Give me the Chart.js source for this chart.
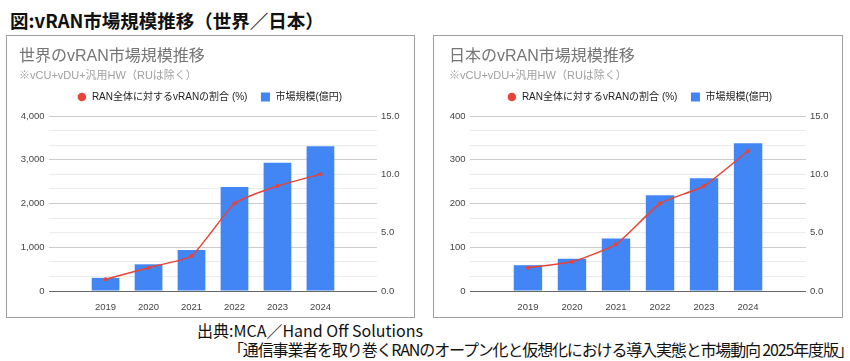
<!DOCTYPE html>
<html lang="ja">
<head>
<meta charset="utf-8">
<script src="https://cdn.jsdelivr.net/npm/chart.js@4.4.1/dist/chart.umd.min.js"></script>
<style>
  body { margin: 0; width: 850px; height: 361px; background: #fff; position: relative; overflow: hidden; }
  .heading { position: absolute; left: 10px; top: 7px; line-height: 20px; font: bold 18.5px "Noto Sans CJK JP", sans-serif; color: #111; white-space: nowrap; }
  .box { position: absolute; top: 35px; height: 281px; border: 1px solid #9e9e9e; }
  #boxWorld { left: 6px; width: 407px; }
  #boxJapan { left: 433px; width: 408px; }
  canvas { display: block; }
  .source { position: absolute; font: 16px "Noto Sans CJK JP", sans-serif; line-height: 19px; color: #111; white-space: nowrap; }
  #src1 { left: 197px; top: 321px; }
  #src2 { left: 228px; top: 340px; letter-spacing: -1.15px; }
</style>
</head>
<body>
<div class="heading">図:vRAN市場規模推移（世界／日本）</div>
<div class="box" id="boxWorld"><canvas id="worldChart" width="407" height="281"></canvas></div>
<div class="box" id="boxJapan"><canvas id="japanChart" width="408" height="281"></canvas></div>
<div class="source" id="src1">出典:MCA／Hand Off Solutions</div>
<div class="source" id="src2">「通信事業者を取り巻くRANのオープン化と仮想化における導入実態と市場動向 2025年度版」</div>

<script>
const years = ['2019', '2020', '2021', '2022', '2023', '2024'];

// 世界 (億円 / %)
const worldMarket = [300, 610, 940, 2380, 2930, 3310];
const worldShare = [1.0, 2.0, 3.0, 7.5, 9.0, 10.0];
const worldMarketTicks = [0, 1000, 2000, 3000, 4000];

// 日本 (億円 / %)
const japanMarket = [59, 74, 120, 219, 258, 338];
const japanShare = [2.0, 2.5, 4.0, 7.5, 9.0, 12.0];
const japanMarketTicks = [0, 100, 200, 300, 400];

const shareTicks = [0, 5, 10, 15];

const shareLabel = 'RAN全体に対するvRANの割合 (%)';
const marketLabel = '市場規模(億円)';

const BLUE = '#4285f4';
const RED = '#ea4335';
const FONT = 'Arial, "Liberation Sans", "Noto Sans CJK JP", sans-serif';

// push the plot a little further down from the legend
const legendGap = {
    id: 'legendGap',
    beforeInit(chart) {
        const fit = chart.legend.fit;
        chart.legend.fit = function () {
            fit.bind(chart.legend)();
            this.height += 4;
        };
    }
};

function withMinor(ticks) {
    // two minor gridlines between each labelled one
    let out = [];
    ticks.forEach((v, i) => {
        out.push(v);
        if (i < ticks.length - 1) {
            let d = (ticks[i + 1] - v) / 3;
            out.push(v + d, v + 2 * d);
        }
    });
    return out;
}

function makeChart(canvasId, title, market, share, marketTicks, lay) {
    const ctx = document.getElementById(canvasId).getContext('2d');
    const gridValues = withMinor(marketTicks);

    return new Chart(ctx, {
        type: 'bar',
        data: {
            labels: years,
            datasets: [{
                type: 'line',
                label: shareLabel,
                data: share,
                yAxisID: 'y2',
                borderColor: RED,
                backgroundColor: RED,
                borderWidth: 1.5,
                pointRadius: 2,
                pointBorderWidth: 0,
                pointStyle: 'circle',
                tension: 0.15,
                order: 0
            }, {
                label: marketLabel,
                data: market,
                yAxisID: 'y',
                backgroundColor: BLUE,
                borderColor: BLUE,
                borderWidth: 0,
                pointStyle: 'rect',
                categoryPercentage: 1,
                barPercentage: 0.645,
                order: 1
            }]
        },
        plugins: [legendGap],
        options: {
            responsive: false,
            animation: false,
            layout: {
                padding: { left: lay.padLeft, right: lay.padRight, top: 0, bottom: 0 }
            },
            scales: {
                x: {
                    type: 'linear',
                    min: +years[0] - 0.68,
                    max: +years[years.length - 1] + 0.68,
                    afterBuildTicks: axis => {
                        axis.ticks = years.map(y => ({ value: +y }));
                    },
                    afterFit: axis => { axis.height = 26; },
                    grid: { display: false },
                    border: { display: false },
                    ticks: {
                        padding: 3,
                        color: '#444',
                        font: { family: FONT, size: 9.5 },
                        callback: v => String(v)
                    }
                },
                y: {
                    position: 'left',
                    min: 0,
                    max: marketTicks[marketTicks.length - 1],
                    afterBuildTicks: axis => {
                        axis.ticks = gridValues.map(v => ({ value: v }));
                    },
                    afterFit: axis => { axis.width = lay.yWidth; },
                    border: { display: false },
                    grid: {
                        drawTicks: false,
                        color: c => {
                            if (c.tick && c.tick.value === 0) return '#666';
                            return c.tick && marketTicks.includes(c.tick.value) ? '#cccccc' : '#ebebeb';
                        }
                    },
                    ticks: {
                        autoSkip: false,
                        padding: 4.5,
                        color: '#444',
                        font: { family: FONT, size: 9.5 },
                        callback: v => marketTicks.includes(v) ? v.toLocaleString('en-US') : ''
                    }
                },
                y2: {
                    position: 'right',
                    min: 0,
                    max: shareTicks[shareTicks.length - 1],
                    afterBuildTicks: axis => {
                        axis.ticks = shareTicks.map(v => ({ value: v }));
                    },
                    afterFit: axis => { axis.width = lay.y2Width; },
                    border: { display: false },
                    grid: { display: false, drawTicks: false },
                    ticks: {
                        autoSkip: false,
                        padding: 4,
                        color: '#444',
                        font: { family: FONT, size: 9.5 },
                        callback: v => v.toFixed(1)
                    }
                }
            },
            plugins: {
                title: {
                    display: true,
                    text: title,
                    align: 'start',
                    color: '#757575',
                    font: { family: FONT, size: 16, weight: 'normal' },
                    padding: { top: 11.4, bottom: 0 }
                },
                subtitle: {
                    display: true,
                    text: '※vCU+vDU+汎用HW（RUは除く）',
                    align: 'start',
                    color: '#a0a0a0',
                    font: { family: FONT, size: 11 },
                    padding: { top: 2.8, bottom: -3.6 }
                },
                legend: {
                    display: true,
                    position: 'top',
                    labels: {
                        usePointStyle: true,
                        boxWidth: 10,
                        boxHeight: 6,
                        padding: 13,
                        color: '#222',
                        font: { family: FONT, size: 10 },
                        generateLabels: chart => {
                            let items = Chart.defaults.plugins.legend.labels.generateLabels(chart);
                            items.forEach(item => {
                                if (item.datasetIndex === 1) {
                                    item.lineWidth = 3;
                                    item.strokeStyle = BLUE;
                                } else {
                                    item.lineWidth = 0;
                                }
                            });
                            return items;
                        }
                    }
                },
                tooltip: { enabled: false }
            }
        }
    });
}

let worldChart = makeChart('worldChart', '世界のvRAN市場規模推移', worldMarket, worldShare, worldMarketTicks,
    { padLeft: 12, padRight: 14, yWidth: 30, y2Width: 23 });

let japanChart = makeChart('japanChart', '日本のvRAN市場規模推移', japanMarket, japanShare, japanMarketTicks,
    { padLeft: 15, padRight: 12, yWidth: 21, y2Width: 24 });
</script>
</body>
</html>
